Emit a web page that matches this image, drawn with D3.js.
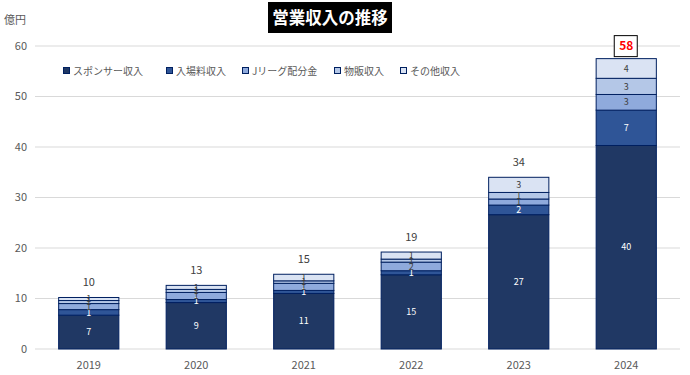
<!DOCTYPE html>
<html>
<head>
<meta charset="utf-8">
<script src="https://cdn.jsdelivr.net/npm/d3@7"></script>
<style>
  body { margin: 0; background: #fff; }
  svg { font-family: "Noto Sans CJK JP", "Noto Sans", sans-serif; }
</style>
</head>
<body>
<div id="chart"></div>
<script>
// ---- data (億円) ----
const YEARS = ["2019", "2020", "2021", "2022", "2023", "2024"];
const SERIES = ["スポンサー収入", "入場料収入", "Jリーグ配分金", "物販収入", "その他収入"];
const SPONSOR = [6.7, 9.2, 11.0, 14.7, 26.6, 40.3];
const TICKET  = [1.1, 0.6, 0.6, 0.8, 1.9, 7.0];
const JLEAGUE = [1.2, 1.4, 1.4, 1.7, 1.2, 3.1];
const MERCH   = [0.6, 0.6, 0.5, 0.6, 1.3, 3.2];
const OTHER   = [0.6, 0.8, 1.3, 1.4, 3.0, 3.9];
const Y_TICKS = [0, 10, 20, 30, 40, 50, 60];

const COLORS = ["#203864", "#2F5597", "#8FAADC", "#B4C7E7", "#DAE3F3"];
const LABEL_COLORS = ["#fff", "#fff", "#404040", "#404040", "#404040"];

const W = 690, H = 375;
const margin = { top: 46, right: 10, bottom: 26, left: 35 };

const svg = d3.select("#chart").append("svg")
  .attr("width", W).attr("height", H);

const rows = YEARS.map((y, i) => ({
  year: y,
  [SERIES[0]]: SPONSOR[i], [SERIES[1]]: TICKET[i], [SERIES[2]]: JLEAGUE[i],
  [SERIES[3]]: MERCH[i], [SERIES[4]]: OTHER[i]
}));
const stacked = d3.stack().keys(SERIES)(rows);

const x = d3.scaleBand().domain(YEARS)
  .range([margin.left, W - margin.right])
  .paddingInner(0.44).paddingOuter(0.22);
const y = d3.scaleLinear().domain([0, 60]).range([H - margin.bottom, margin.top]);

// gridlines
svg.append("g").selectAll("line").data(Y_TICKS).join("line")
  .attr("x1", margin.left).attr("x2", W - margin.right)
  .attr("y1", d => y(d)).attr("y2", d => y(d))
  .attr("stroke", "#d9d9d9").attr("stroke-width", 1);

// y axis labels
svg.append("g").selectAll("text").data(Y_TICKS).join("text")
  .attr("x", 27).attr("y", d => y(d)).attr("dy", "0.35em")
  .attr("text-anchor", "end").attr("font-size", 11).attr("fill", "#595959")
  .text(d => d);

svg.append("text").attr("x", 4).attr("y", 24)
  .attr("font-size", 11).attr("fill", "#595959").text("億円");

// x axis labels
svg.append("g").selectAll("text").data(YEARS).join("text")
  .attr("x", d => x(d) + x.bandwidth() / 2).attr("y", 369)
  .attr("text-anchor", "middle").attr("font-size", 11).attr("fill", "#595959")
  .text(d => d);

// bars
const layers = svg.append("g").selectAll("g").data(stacked).join("g")
  .attr("fill", (d, i) => COLORS[i]);

layers.selectAll("rect").data(d => d).join("rect")
  .attr("x", d => x(d.data.year))
  .attr("y", d => y(d[1]))
  .attr("width", x.bandwidth())
  .attr("height", d => y(d[0]) - y(d[1]))
  .attr("stroke", "#002060").attr("stroke-width", 1);

// segment labels
stacked.forEach((layer, i) => {
  svg.append("g").selectAll("text").data(layer).join("text")
    .attr("x", d => x(d.data.year) + x.bandwidth() / 2)
    .attr("y", d => y((d[0] + d[1]) / 2))
    .attr("dy", "0.35em").attr("text-anchor", "middle")
    .attr("font-size", 9).attr("fill", LABEL_COLORS[i])
    .text(d => Math.round(d[1] - d[0]));
});

// totals
const totals = rows.map((r, i) => ({
  year: r.year,
  total: SPONSOR[i] + TICKET[i] + JLEAGUE[i] + MERCH[i] + OTHER[i]
}));
const last = totals.length - 1;
svg.append("g").selectAll("text").data(totals.slice(0, last)).join("text")
  .attr("x", d => x(d.year) + x.bandwidth() / 2)
  .attr("y", d => y(d.total) - 11)
  .attr("text-anchor", "middle").attr("font-size", 11).attr("fill", "#404040")
  .text(d => Math.round(d.total));

const lt = totals[last];
const lx = x(lt.year) + x.bandwidth() / 2;
svg.append("rect")
  .attr("x", lx - 12).attr("y", y(lt.total) - 23)
  .attr("width", 23).attr("height", 21)
  .attr("fill", "#fff").attr("stroke", "#000").attr("stroke-width", 1);
svg.append("text")
  .attr("x", lx).attr("y", y(lt.total) - 12.5).attr("dy", "0.35em")
  .attr("text-anchor", "middle").attr("font-size", 12).attr("font-weight", 700)
  .attr("fill", "#ff0000").text(Math.round(lt.total));

// title
svg.append("rect").attr("x", 268).attr("y", 2).attr("width", 124).attr("height", 31)
  .attr("fill", "#000");
svg.append("text").attr("x", 330).attr("y", 18).attr("dy", "0.35em")
  .attr("text-anchor", "middle").attr("font-size", 16.5).attr("font-weight", 700)
  .attr("fill", "#fff").text("営業収入の推移");

// legend
const LEGEND_X = [63, 166, 242, 334, 400];
const legend = svg.append("g").selectAll("g").data(SERIES).join("g")
  .attr("transform", (d, i) => `translate(${LEGEND_X[i]}, 72)`);
legend.append("rect")
  .attr("x", 0.5).attr("y", -4.5).attr("width", 6).attr("height", 6)
  .attr("fill", (d, i) => COLORS[i]).attr("stroke", "#002060").attr("stroke-width", 1);
legend.append("text")
  .attr("x", 10).attr("y", 0).attr("dy", "0.3em")
  .attr("font-size", 10).attr("fill", "#595959")
  .text(d => d);
</script>
</body>
</html>
